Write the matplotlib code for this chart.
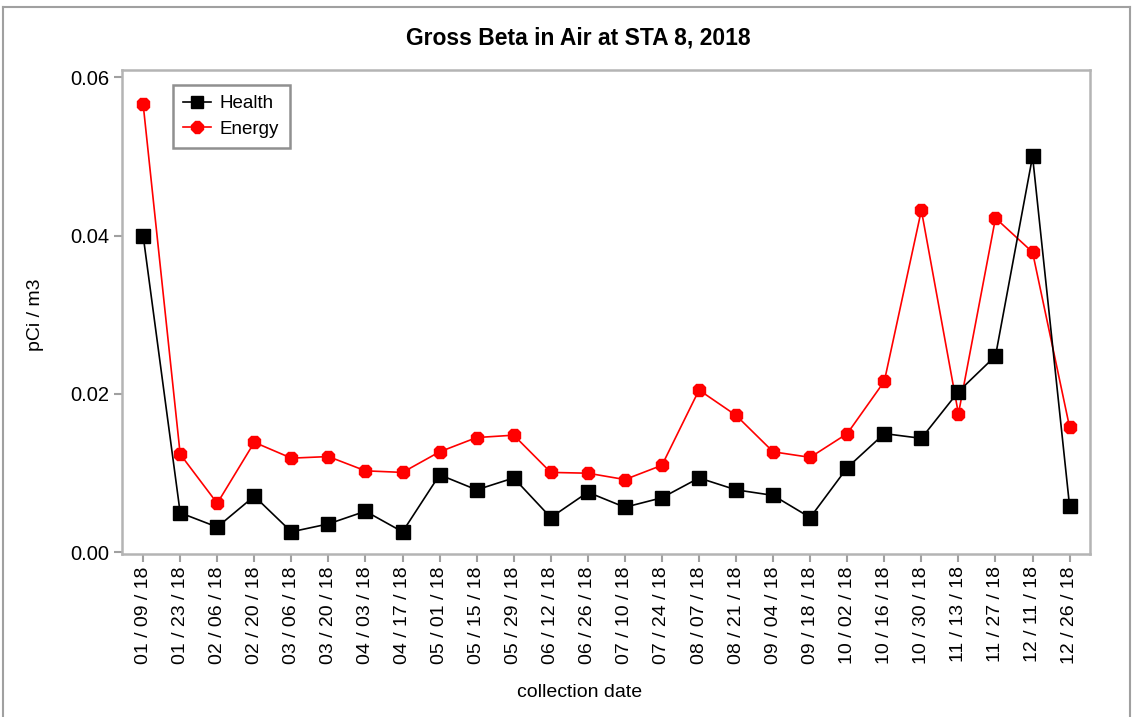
import numpy as np
import matplotlib
matplotlib.use("Agg")
import matplotlib.pyplot as plt
from matplotlib.lines import Line2D

plt.rcParams["font.family"] = ["Liberation Sans", "DejaVu Sans"]

dates = ["01 / 09 / 18", "01 / 23 / 18", "02 / 06 / 18", "02 / 20 / 18",
         "03 / 06 / 18", "03 / 20 / 18", "04 / 03 / 18", "04 / 17 / 18",
         "05 / 01 / 18", "05 / 15 / 18", "05 / 29 / 18", "06 / 12 / 18",
         "06 / 26 / 18", "07 / 10 / 18", "07 / 24 / 18", "08 / 07 / 18",
         "08 / 21 / 18", "09 / 04 / 18", "09 / 18 / 18", "10 / 02 / 18",
         "10 / 16 / 18", "10 / 30 / 18", "11 / 13 / 18", "11 / 27 / 18",
         "12 / 11 / 18", "12 / 26 / 18"]

health = [0.0400, 0.0050, 0.0032, 0.0071, 0.0026, 0.0036, 0.0052, 0.0026,
          0.0098, 0.0079, 0.0094, 0.0044, 0.0076, 0.0057, 0.0069, 0.0094,
          0.0079, 0.0072, 0.0044, 0.0107, 0.0150, 0.0144, 0.0203, 0.0248,
          0.0500, 0.0058]

energy = [0.0566, 0.0124, 0.0062, 0.0139, 0.0119, 0.0121, 0.0103, 0.0101,
          0.0127, 0.0145, 0.0148, 0.0101, 0.0100, 0.0092, 0.0110, 0.0205,
          0.0173, 0.0127, 0.0120, 0.0150, 0.0216, 0.0432, 0.0175, 0.0422,
          0.0379, 0.0158]

W, H = 1139, 717
fig = plt.figure(figsize=(W / 100, H / 100), dpi=100)
ax = fig.add_axes([122 / W, 1 - 554 / H, (1090 - 122) / W, (554 - 70) / H])

x = np.arange(len(dates))
ax.plot(x, health, color="black", lw=1.2, marker="s", ms=10,
        mec="black", mfc="black", label="Health", zorder=3)
ax.plot(x, energy, color="red", lw=1.2, marker="8", ms=10,
        mec="red", mfc="red", label="Energy", zorder=2)

ax.set_xlim(-0.57, 25.55)
ax.set_ylim(-0.0002, 0.0609)
ax.set_xticks(x)
ax.set_xticklabels(dates, rotation=90, fontsize=14)
ax.set_yticks([0.0, 0.02, 0.04, 0.06])
ax.set_yticklabels(["0.00", "0.02", "0.04", "0.06"], fontsize=14.5)
ax.tick_params(length=6, width=1.5, color="#a0a0a0", pad=3)

for s in ax.spines.values():
    s.set_color("#b4b4b4")
    s.set_linewidth(1.8)

ax.set_xlabel("collection date", fontsize=14)
ax.set_ylabel("pCi / m3", fontsize=14)
ax.xaxis.set_label_coords((580 - 122) / 968, (554 - 684) / 484)
ax.yaxis.set_label_coords((44 - 122) / 968, (554 - 315) / 484)
fig.text(578 / W, 1 - 38 / H,
         "Gross Beta in Air at STA 8, 2018", ha="center", va="center",
         fontsize=16.5, fontweight="bold")

leg = ax.legend(loc="upper left", bbox_to_anchor=((173 - 122) / 968, (554 - 85) / 484),
                borderaxespad=0, fontsize=13.5, frameon=True, fancybox=False,
                framealpha=1, borderpad=0.55, handlelength=1.45,
                handletextpad=0.5, labelspacing=0.45, markerscale=0.9)
leg.get_frame().set_edgecolor("#909090")
leg.get_frame().set_linewidth(1.8)

# outer window frame
fig.add_artist(Line2D([3 / W, 1130 / W], [1 - 7 / H, 1 - 7 / H],
                      transform=fig.transFigure, color="#a0a0a0", lw=1.5))
fig.add_artist(Line2D([3 / W, 3 / W], [0, 1 - 7 / H],
                      transform=fig.transFigure, color="#a0a0a0", lw=1.5))
fig.add_artist(Line2D([1130 / W, 1130 / W], [0, 1 - 7 / H],
                      transform=fig.transFigure, color="#a0a0a0", lw=1.5))

fig.savefig("out.png", dpi=100)
